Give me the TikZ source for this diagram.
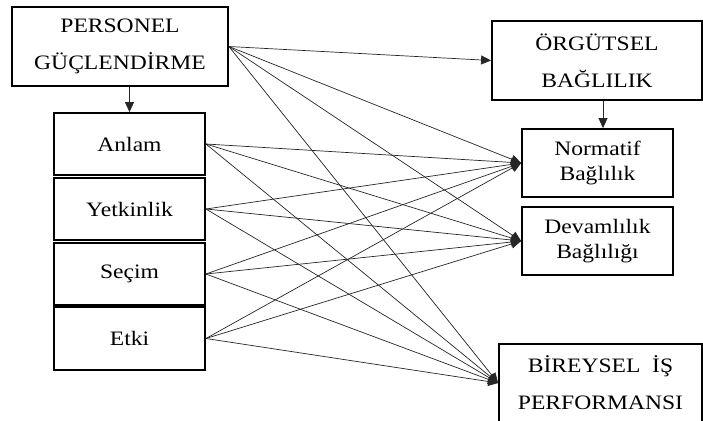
\documentclass[tikz,border=0pt]{standalone}
\usepackage{fontspec}
\setmainfont{Liberation Serif}[FakeStretch=1.15]
\usetikzlibrary{arrows.meta}
\begin{document}
\begin{tikzpicture}[x=1pt,y=-1pt,
  box/.style={draw, line width=1.8pt, align=center, inner sep=0pt,
    font=\fontsize{20.5}{25}\selectfont},
  conn/.style={line width=0.7pt, draw=black!85, -{Triangle[length=10pt,width=9pt]}},
]
\useasboundingbox (0,0) rectangle (703,420);
% left column
\node[box, minimum width=216pt, minimum height=79pt] (pg) at (120,46.5) {PERSONEL\\[12pt]GÜÇLENDİRME};
\node[box, minimum width=151pt, minimum height=62pt] (anl) at (129.5,144) {Anlam};
\node[box, minimum width=151pt, minimum height=62pt] (yet) at (129.5,209) {Yetkinlik};
\node[box, minimum width=151pt, minimum height=62pt] (sec) at (129.5,274) {Seçim};
\node[box, minimum width=151pt, minimum height=63pt] (etk) at (129.5,338.5) {Etki};
% right column
\node[box, minimum width=210pt, minimum height=79pt] (org) at (597,60.5) {ÖRGÜTSEL\\[12pt]BAĞLILIK};
\node[box, minimum width=151pt, minimum height=68pt] (nor) at (597.5,163) {Normatif\\Bağlılık};
\node[box, minimum width=151pt, minimum height=68pt] (dev) at (597.5,241) {Devamlılık\\Bağlılığı};
\node[box, minimum width=203pt, minimum height=78pt] (bir) at (600.5,383) {BİREYSEL \ İŞ\\[12pt]PERFORMANSI};
% vertical arrows
\draw[conn] (pg.south -| anl.north) -- (anl.north);
\draw[conn] ([xshift=6pt]org.south) -- ([xshift=6pt]org.south |- nor.north);
% personel
\draw[conn] (pg.east) -- (org.west);
\foreach \t in {nor,dev,bir} {
  \draw[conn] (pg.east) -- (\t.west);
}
% dimensions
\foreach \s in {anl,yet,sec,etk} {
  \foreach \t in {nor,dev,bir} {
    \draw[conn] (\s.east) -- (\t.west);
  }
}
\end{tikzpicture}
\end{document}
